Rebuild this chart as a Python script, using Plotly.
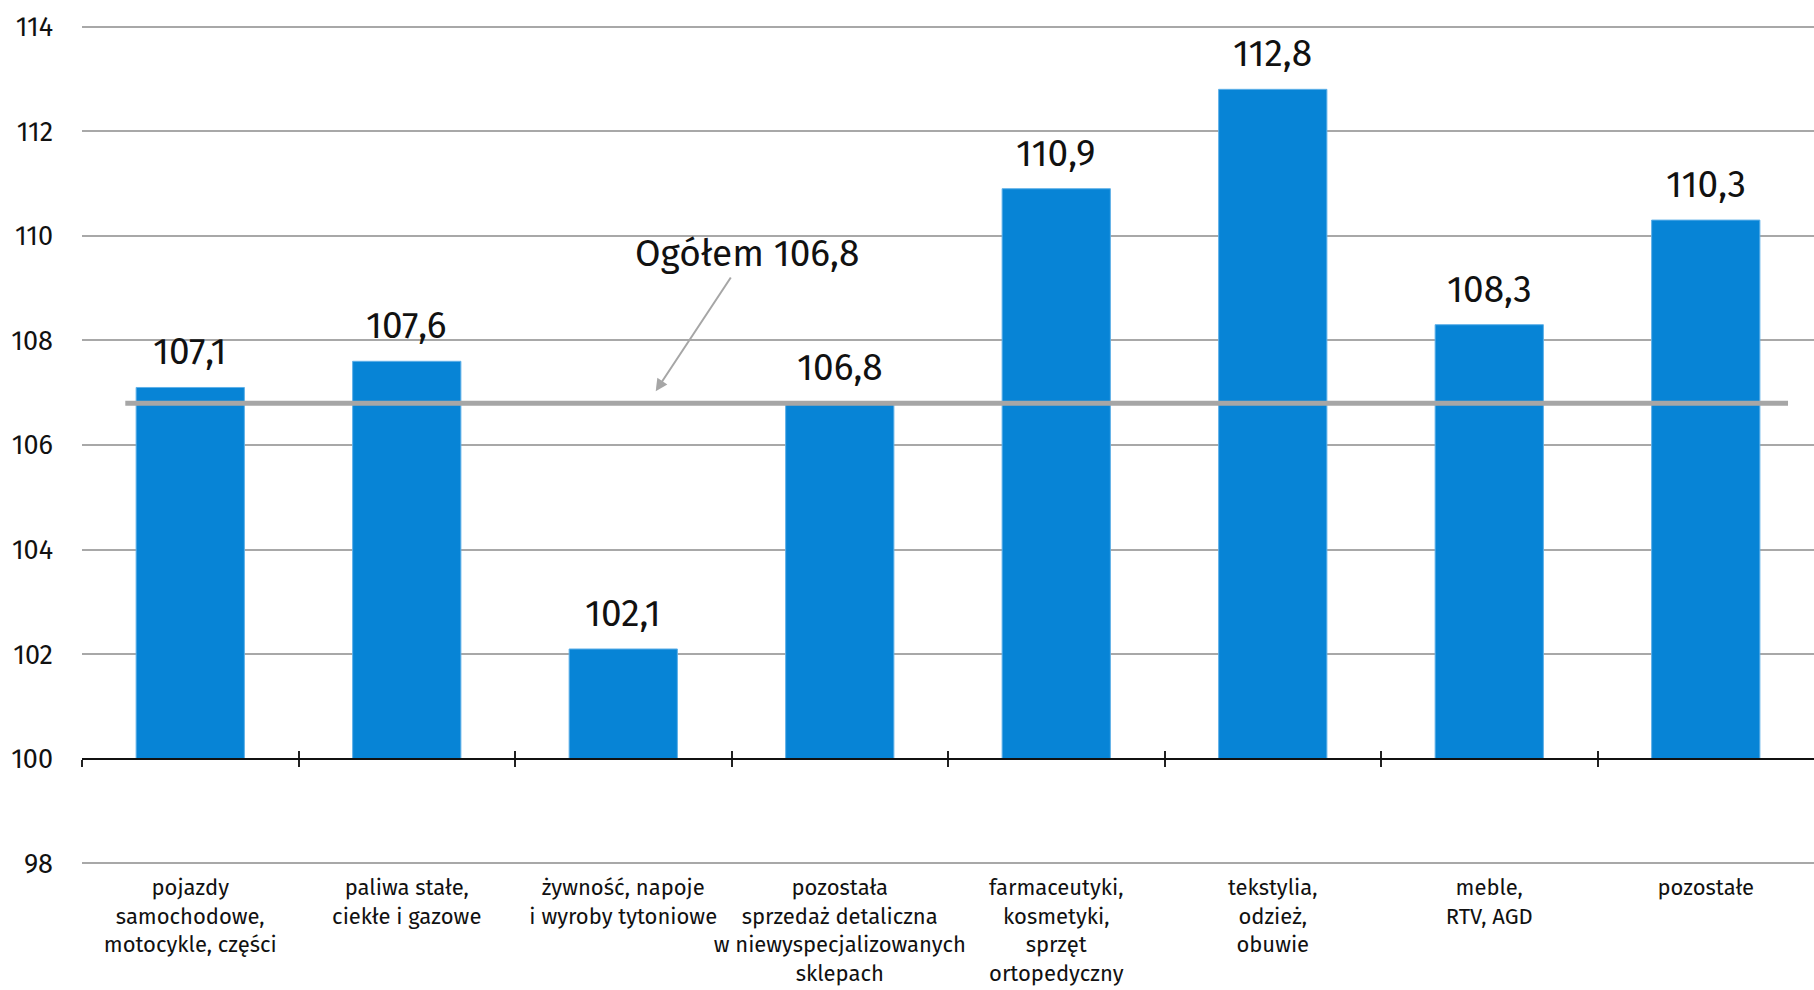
import plotly.graph_objects as go

# data
kategorie = [
    "pojazdy<br>samochodowe,<br>motocykle, części",
    "paliwa stałe,<br>ciekłe i gazowe",
    "żywność, napoje<br>i wyroby tytoniowe",
    "pozostała<br>sprzedaż detaliczna<br>w niewyspecjalizowanych<br>sklepach",
    "farmaceutyki,<br>kosmetyki,<br>sprzęt<br>ortopedyczny",
    "tekstylia,<br>odzież,<br>obuwie",
    "meble,<br>RTV, AGD",
    "pozostałe",
]
wartosci = [107.1, 107.6, 102.1, 106.8, 110.9, 112.8, 108.3, 110.3]
ogolem = 106.8
y_ticks = [98, 100, 102, 104, 106, 108, 110, 112, 114]

FONT = "Fira Sans, Noto Sans, sans-serif"
BAR_COLOR = "#0784d6"
GRID = "#a8a8a8"

pos = list(range(len(kategorie)))


def fmt(v):
    return f"{v:.1f}".replace(".", ",")


fig = go.Figure()

fig.add_trace(
    go.Bar(
        x=pos, y=[v - 100 for v in wartosci], base=100,
        width=0.5, marker_color=BAR_COLOR,
        marker_line=dict(color="#5fb0e8", width=1),
        showlegend=False, hoverinfo="skip",
    )
)

# Ogółem line
fig.add_trace(
    go.Scatter(
        x=[-0.3, 7.38], y=[ogolem, ogolem], mode="lines",
        line=dict(color="#a6a6a6", width=5),
        showlegend=False, hoverinfo="skip",
    )
)

# helper traces for the baseline axes at 100
for ax in ["x2", "x3"]:
    fig.add_trace(go.Scatter(x=[], y=[], xaxis=ax, yaxis="y",
                             showlegend=False, hoverinfo="skip"))

# value labels
for i, v in zip(pos, wartosci):
    fig.add_annotation(
        x=i, y=v, text=fmt(v), showarrow=False,
        yanchor="bottom", yshift=11,
        font=dict(family=FONT, size=37, color="#111111"),
    )

fig.add_annotation(
    x=2.15, y=107.03, ax=2.57, ay=109.66,
    axref="x", ayref="y", xref="x", yref="y",
    text="Ogółem " + fmt(ogolem),
    showarrow=True, arrowhead=2, arrowwidth=2,
    arrowcolor="#a6a6a6", arrowsize=1.2,
    font=dict(family=FONT, size=37, color="#111111"),
)

base_pos = (100 - 97.97) / (114.03 - 97.97)
boundaries = [p - 0.5 for p in pos]

axis_common = dict(
    range=[-0.5, 7.5], overlaying="x", anchor="free", position=base_pos,
    showgrid=False, zeroline=False, showticklabels=False,
    tickvals=boundaries, ticklen=7, tickwidth=1.5, tickcolor="#222222",
    showline=True, linecolor="#111111", linewidth=1.5,
)

fig.update_layout(
    width=1814, height=990,
    margin=dict(l=82, r=0, t=25, b=125, autoexpand=False),
    plot_bgcolor="white", paper_bgcolor="white",
    font=dict(family=FONT, color="#111111"),
    xaxis=dict(
        range=[-0.5, 7.5], tickvals=pos, ticktext=kategorie,
        showgrid=False, zeroline=False, showline=False, ticks="",
        tickangle=0, automargin=False,
        tickfont=dict(family=FONT, size=22, color="#111111"),
        ticklabelstandoff=7,
    ),
    xaxis2=dict(ticks="outside", **axis_common),
    xaxis3=dict(ticks="inside", **axis_common),
    yaxis=dict(
        range=[97.97, 114.03], tickvals=y_ticks, ticktext=[str(t) for t in y_ticks],
        showgrid=True, gridcolor=GRID, gridwidth=1.5, zeroline=False,
        showline=False, ticks="", automargin=False,
        tickfont=dict(family=FONT, size=27, color="#111111"),
        ticklabelstandoff=28,
    ),
    bargap=0.5,
)

fig.write_html("out.html", config={"displayModeBar": False},
               post_script="document.body.style.margin='0';")
